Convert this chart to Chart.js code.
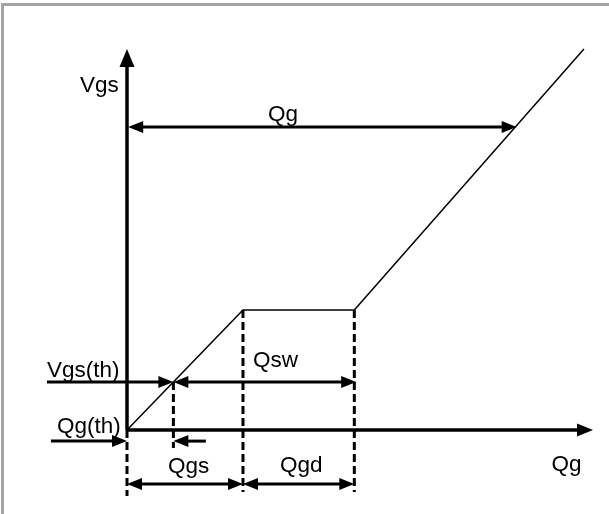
<!DOCTYPE html>
<html><head><meta charset="utf-8">
<script src="https://cdn.jsdelivr.net/npm/chart.js@4"></script>
<style>html,body{margin:0;padding:0;background:#fff}canvas{display:block}</style>
</head><body>
<canvas id="c" width="609" height="514"></canvas>
<script>
// Gate charge curve (Qg in nC, Vgs in V)
const gateCharge = [0, 5.0, 9.8, 19.7];
const gateVoltage = [0, 4.0, 4.0, 12.7];
const Qth = 2.0, Vth = 1.6;          // threshold point
const QgsEnd = 5.0, QgdEnd = 9.8;    // plateau start / end
const plateauV = 4.0;
const QgTotal = 16.8, VgsDrive = 10.1;
const axisMaxQ = 20.09, axisMaxV = 12.7;

// Dimension lines (annotation levels, in V, below the Q axis)
const QthArrowV = -0.37;
const dimArrowV = -1.8;

// Dashed drop lines: [Q, fromV, toV]
const dropLines = [
  [0, 0, -2.2],
  [Qth, Vth, -0.6],
  [QgsEnd, plateauV, -2.07],
  [QgdEnd, plateauV, -2.07]
];

// Arrows: [x1, y1, x2, y2, heads, size]
const arrows = [
  [0, 0, axisMaxQ, 0, 'end', 'x'],
  [0, 0, 0, axisMaxV, 'end', 'y'],
  [0.05, VgsDrive, QgTotal, VgsDrive, 'both', 'n'],
  [-3.45, Vth, Qth, Vth, 'end', 'n'],
  [Qth, Vth, QgdEnd + 0.08, Vth, 'both', 'n'],
  [-3.28, QthArrowV, 0, QthArrowV, 'end', 'n'],
  [3.4, QthArrowV, Qth, QthArrowV, 'end', 'n'],
  [0, dimArrowV, QgsEnd, dimArrowV, 'both', 'n'],
  [QgsEnd, dimArrowV, QgdEnd, dimArrowV, 'both', 'n']
];

// Text labels: [text, Q, V] (left/baseline anchor)
const labels = [
  ['Vgs', -2.03, 11.27],
  ['Qg', 6.08, 10.3],
  ['Vgs(th)', -3.45, 1.77],
  ['Qg(th)', -3.02, -0.1],
  ['Qsw', 5.43, 2.1],
  ['Qgs', 1.77, -1.42],
  ['Qgd', 6.6, -1.4],
  ['Qg', 18.3, -1.37]
];

const curve = gateCharge.map((q, i) => ({x: q, y: gateVoltage[i]}));
const dropSets = dropLines.map(d => ({
  data: [{x: d[0], y: d[1]}, {x: d[0], y: d[2]}],
  showLine: true, borderColor: '#000', borderWidth: 3, borderDash: [8, 4],
  pointRadius: 0, clip: false, borderCapStyle: 'butt'
}));

const headSize = {x: [16, 6.5], y: [18, 7.5], n: [15, 6]};

const annot = {
  id: 'annot',
  beforeDraw(chart) {
    const ctx = chart.ctx;
    ctx.save();
    ctx.fillStyle = '#fff';
    ctx.fillRect(0, 0, chart.width, chart.height);
    ctx.fillStyle = '#a3a3a3';
    ctx.fillRect(1, 3, chart.width, 3);
    ctx.fillRect(1, 3, 3, chart.height);
    ctx.restore();
  },
  afterDatasetsDraw(chart) {
    const ctx = chart.ctx, xs = chart.scales.x, ys = chart.scales.y;
    const px = v => xs.getPixelForValue(v), py = v => ys.getPixelForValue(v);
    ctx.save();
    ctx.strokeStyle = '#000'; ctx.fillStyle = '#000';
    arrows.forEach(a => {
      const x1 = px(a[0]), y1 = py(a[1]), x2 = px(a[2]), y2 = py(a[3]);
      const [L, W] = headSize[a[5]];
      const len = Math.hypot(x2 - x1, y2 - y1);
      const ux = (x2 - x1) / len, uy = (y2 - y1) / len;
      const s = (a[4] === 'both') ? L - 2 : 0;
      const e = L - 2;
      ctx.lineWidth = a[5] === 'n' ? 3 : 3.5;
      ctx.lineCap = 'butt';
      ctx.beginPath();
      ctx.moveTo(x1 + ux * s, y1 + uy * s);
      ctx.lineTo(x2 - ux * e, y2 - uy * e);
      ctx.stroke();
      const head = (tx, ty, dx, dy) => {
        ctx.beginPath();
        ctx.moveTo(tx, ty);
        ctx.lineTo(tx - dx * L - dy * W, ty - dy * L + dx * W);
        ctx.lineTo(tx - dx * L + dy * W, ty - dy * L - dx * W);
        ctx.closePath();
        ctx.fill();
      };
      head(x2, y2, ux, uy);
      if (a[4] === 'both') head(x1, y1, -ux, -uy);
    });
    ctx.font = '22.5px "Liberation Sans", Arial, sans-serif';
    ctx.textAlign = 'left';
    ctx.textBaseline = 'alphabetic';
    labels.forEach(l => ctx.fillText(l[0], px(l[1]), py(l[2])));
    ctx.restore();
  }
};

new Chart(document.getElementById('c'), {
  type: 'scatter',
  data: {
    datasets: [{
      data: curve, showLine: true, borderColor: '#000', borderWidth: 1.5,
      pointRadius: 0, clip: false
    }, ...dropSets]
  },
  options: {
    responsive: false,
    animation: false,
    devicePixelRatio: 1,
    layout: {padding: {left: 127, right: 16, top: 49, bottom: 84}},
    plugins: {legend: {display: false}, tooltip: {enabled: false}},
    scales: {
      x: {type: 'linear', min: 0, max: axisMaxQ, display: false},
      y: {type: 'linear', min: 0, max: axisMaxV, display: false}
    }
  },
  plugins: [annot]
});
</script>
</body></html>
